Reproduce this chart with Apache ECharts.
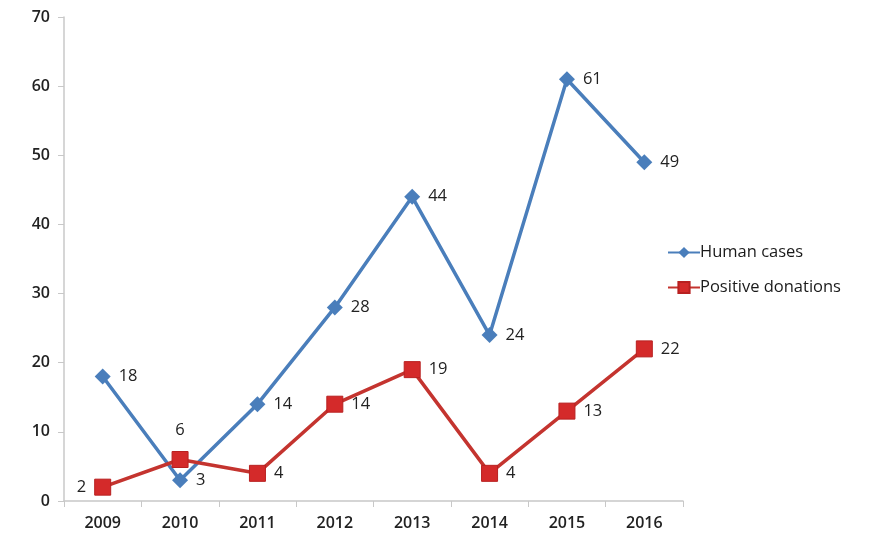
<!DOCTYPE html>
<html><head><meta charset="utf-8">
<script src="https://cdn.jsdelivr.net/npm/echarts@6/dist/echarts.min.js"></script>
<style>html,body{margin:0;padding:0;background:#fff}#c{width:879px;height:547px}</style>
</head><body><div id="c"></div>
<script>
const years = ['2009','2010','2011','2012','2013','2014','2015','2016'];
const humanCases = [18, 3, 14, 28, 44, 24, 61, 49];
const positiveDonations = [2, 6, 4, 14, 19, 4, 13, 22];
const yTicks = {min: 0, max: 70, interval: 10};

const font = 'Open Sans';
const chart = echarts.init(document.getElementById('c'));
chart.setOption({
  animation: false,
  textStyle: {fontFamily: font},
  grid: {left: 64, right: 196, top: 17, bottom: 46},
  legend: {
    orient: 'vertical', left: 662, top: 239, itemGap: 18,
    itemWidth: 32, itemHeight: 14,
    textStyle: {fontFamily: font, fontSize: 16.5, color: '#1a1a1a', padding: [0,0,0,-5]},
    data: ['Human cases', 'Positive donations']
  },
  xAxis: {
    type: 'category', data: years, boundaryGap: true,
    axisLine: {lineStyle: {color: '#c8c8c8', width: 1.5}},
    axisTick: {show: true, length: 6, interval: 0, lineStyle: {color: '#c8c8c8'}},
    axisLabel: {fontFamily: font, fontSize: 16, fontWeight: 600, color: '#222', margin: 14}
  },
  yAxis: {
    type: 'value', min: yTicks.min, max: yTicks.max, interval: yTicks.interval,
    splitLine: {show: false},
    axisLine: {show: true, lineStyle: {color: '#c8c8c8', width: 1.5}},
    axisTick: {show: true, inside: false, length: 6, lineStyle: {color: '#c8c8c8'}},
    axisLabel: {fontFamily: font, fontSize: 16, fontWeight: 600, color: '#222', margin: 14}
  },
  series: [
    {
      name: 'Human cases', type: 'line', data: humanCases,
      symbol: 'diamond', symbolSize: 16,
      lineStyle: {color: '#4a7ebb', width: 3.5},
      itemStyle: {color: '#4a7ebb'},
      label: {show: true, position: 'right', distance: 8, fontFamily: font, fontSize: 16.5, color: '#222'}
    },
    {
      name: 'Positive donations', type: 'line', data: positiveDonations.map((v, i) => {
        if (i === 0) return {value: v, label: {position: 'left'}};
        if (i === 1) return {value: v, label: {position: 'top', distance: 12}};
        return v;
      }),
      symbol: 'rect', symbolSize: 16,
      lineStyle: {color: '#c4342f', width: 3.5},
      itemStyle: {color: '#d42a2a', borderColor: '#b82020', borderWidth: 1},
      label: {show: true, position: 'right', distance: 8, fontFamily: font, fontSize: 16.5, color: '#222'}
    }
  ]
});
</script></body></html>
